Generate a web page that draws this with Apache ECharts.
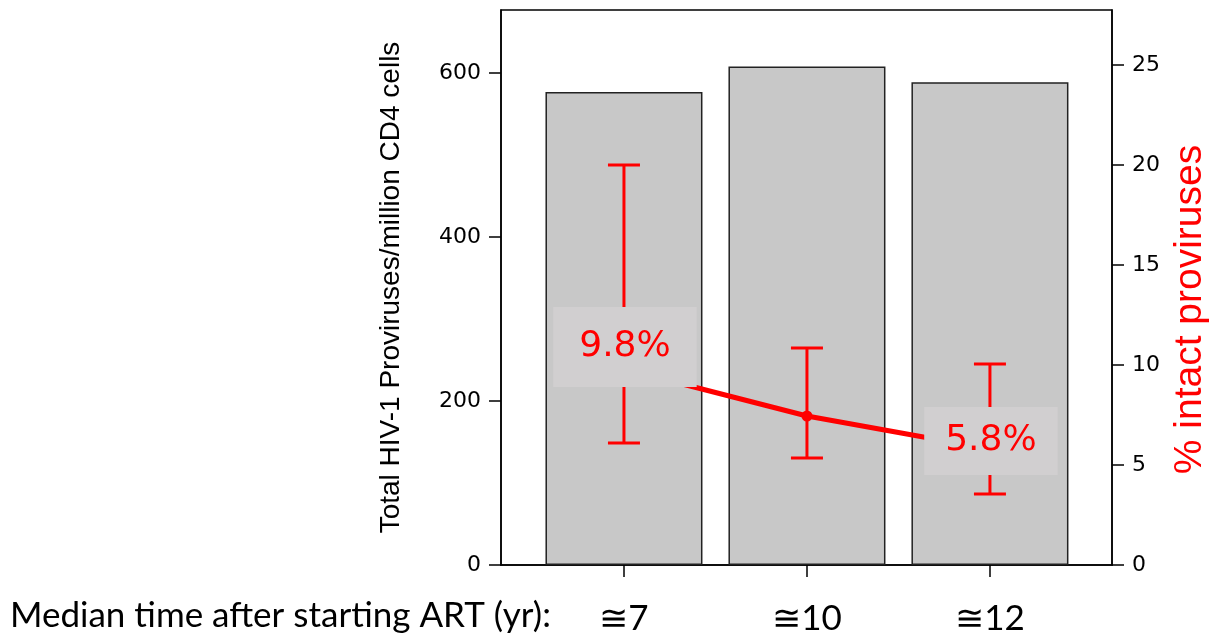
<!DOCTYPE html>
<html>
<head>
<meta charset="utf-8">
<script src="https://cdn.jsdelivr.net/npm/echarts@6/dist/echarts.min.js"></script>
<style>html,body{margin:0;padding:0;background:#fff}#c{width:1209px;height:637px}</style>
</head>
<body>
<div id="c"></div>
<script>
// ---- data ----
const categories = ['≅7', '≅10', '≅12'];
const totalProviruses = [577, 608, 589];
const intactPct = [9.8, 7.45, 5.8];
const intactLow = [6.1, 5.35, 3.55];
const intactHigh = [20.0, 10.85, 10.05];
const leftTicks = [0, 200, 400, 600];
const rightTicks = [0, 5, 10, 15, 20, 25];
const pctLabels = ['9.8%', '', '5.8%'];

const idx = categories.map((c, i) => i);
const chart = echarts.init(document.getElementById('c'));
const RED = '#ff0000';

chart.setOption({
  animation: false,
  grid: { left: 501, right: 97, top: 10, bottom: 72, show: true, borderColor: '#000', borderWidth: 1.5, backgroundColor: 'transparent', outerBoundsMode: 'none', containLabel: false },
  xAxis: {
    type: 'value', min: -0.672, max: 2.667,
    splitLine: { show: false },
    axisLine: { show: true, onZero: false, lineStyle: { color: '#000', width: 1.5 } },
    axisTick: { show: true, customValues: idx, length: 12, lineStyle: { color: '#000', width: 1.5 } },
    axisLabel: { customValues: idx, formatter: v => categories[Math.round(v)], fontFamily: 'Lato', fontSize: 35, color: '#000', margin: 36 }
  },
  yAxis: [{
    type: 'value', min: 0, max: 677,
    splitLine: { show: false },
    axisLine: { show: true, onZero: false, lineStyle: { color: '#000', width: 1.5 } },
    axisTick: { show: true, customValues: leftTicks, length: 12, lineStyle: { color: '#000', width: 1.5 } },
    axisLabel: { customValues: leftTicks, fontFamily: 'DejaVu Sans', fontSize: 22, color: '#000', margin: 20 },
    name: 'Total HIV-1 Proviruses/million CD4 cells', nameLocation: 'middle', nameRotate: 90, nameGap: 96,
    nameTextStyle: { fontFamily: 'Liberation Sans', fontSize: 28, color: '#000' }
  }, {
    type: 'value', min: 0, max: 27.75, position: 'right',
    splitLine: { show: false },
    axisLine: { show: true, onZero: false, lineStyle: { color: '#000', width: 1.5 } },
    axisTick: { show: true, customValues: rightTicks, length: 12, lineStyle: { color: '#000', width: 1.5 } },
    axisLabel: { customValues: rightTicks, fontFamily: 'DejaVu Sans', fontSize: 22, color: '#000', margin: 20 },
    name: '% intact proviruses', nameLocation: 'middle', nameRotate: 90, nameGap: 58,
    nameTextStyle: { fontFamily: 'Liberation Sans', fontSize: 39, color: RED, padding: [0, 44, 0, 0] }
  }],
  graphic: [{
    type: 'text', left: 10, top: 598,
    style: { text: 'Median time after starting ART (yr):', font: '35px Lato', fill: '#000' }
  }],
  series: [{
    type: 'bar', xAxisIndex: 0, yAxisIndex: 0, z: 2,
    data: idx.map(i => [i, totalProviruses[i]]),
    barWidth: 157,
    itemStyle: { color: '#c8c8c8', borderColor: '#222', borderWidth: 1.5 }
  }, {
    type: 'custom', xAxisIndex: 0, yAxisIndex: 1, z: 3,
    data: idx.map(i => [i, intactLow[i], intactHigh[i]]),
    encode: { x: 0, y: [1, 2] },
    renderItem: function (params, api) {
      const lo = api.coord([api.value(0), api.value(1)]);
      const hi = api.coord([api.value(0), api.value(2)]);
      const hw = 16;
      const st = { stroke: RED, lineWidth: 3 };
      return { type: 'group', children: [
        { type: 'line', shape: { x1: lo[0], y1: lo[1], x2: hi[0], y2: hi[1] }, style: st },
        { type: 'line', shape: { x1: lo[0] - hw, y1: lo[1], x2: lo[0] + hw, y2: lo[1] }, style: st },
        { type: 'line', shape: { x1: hi[0] - hw, y1: hi[1], x2: hi[0] + hw, y2: hi[1] }, style: st }
      ]};
    }
  }, {
    type: 'line', xAxisIndex: 0, yAxisIndex: 1, z: 5,
    data: idx.map(i => ({
      value: [i, intactPct[i]],
      label: pctLabels[i] ? {
        show: true, formatter: pctLabels[i],
        offset: i === 0 ? [1, -22] : [1, -8],
        padding: i === 0 ? [20, 26] : [14, 21]
      } : { show: false }
    })),
    symbol: 'circle', symbolSize: 11,
    lineStyle: { color: RED, width: 5 },
    itemStyle: { color: RED },
    label: { position: 'inside', fontFamily: 'DejaVu Sans', fontSize: 36, lineHeight: 40, color: RED, backgroundColor: '#d1cfd0' }
  }]
});
</script>
</body>
</html>
